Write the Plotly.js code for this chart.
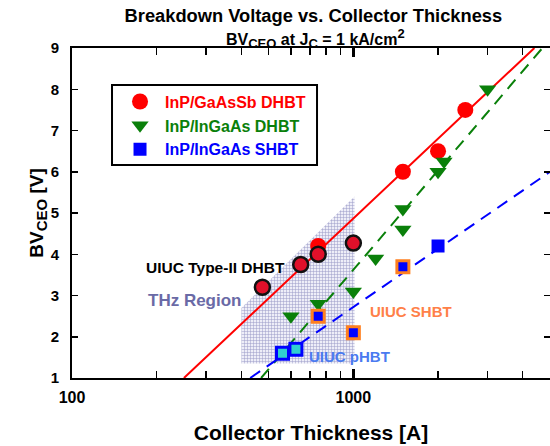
<!DOCTYPE html>
<html>
<head>
<meta charset="utf-8">
<script src="https://cdn.plot.ly/plotly-3.0.1.min.js"></script>
<style>html,body{margin:0;padding:0;background:#fff}#chart{width:550px;height:446px}</style>
</head>
<body>
<div id="chart"></div>
<script>
// ---- data ----
const gasbX = [750, 1500, 2000, 2500];
const gasbY = [4.2, 6.0, 6.5, 7.5];
const uiucDhbtX = [475, 650, 750, 1000];
const uiucDhbtY = [3.2, 3.75, 4.0, 4.27];
const ingaasDhbtX = [600, 750, 1000, 1200, 1500, 1500, 2000, 2100, 3000];
const ingaasDhbtY = [2.5, 2.8, 3.1, 3.9, 4.6, 5.1, 6.0, 6.25, 8.0];
const shbtX = [2000];
const shbtY = [4.2];
const uiucShbtX = [750, 1000, 1500];
const uiucShbtY = [2.5, 2.1, 3.7];
const uiucPhbtX = [560, 625];
const uiucPhbtY = [1.6, 1.7];
const fitRedX = [250, 4400];
const fitRedY = [1, 9];
const fitGreenX = [470, 4700];
const fitGreenY = [1, 9];
const fitBlueX = [430, 5000];
const fitBlueY = [1, 6];
const thzX = [400, 400, 1010, 1010, 400];
const thzY = [1.35, 2.7, 5.4, 1.35, 1.35];
const seriesNames = ['InP/GaAsSb DHBT', 'InP/InGaAs DHBT', 'InP/InGaAs SHBT'];
const xTickVals = [100, 1000];
const xMinorVals = [200, 300, 400, 500, 600, 700, 800, 900, 2000, 3000, 4000, 5000];

const RED = '#ff0000', GREEN = '#0a800a', BLUE = '#0000ff';
const FONT = 'Liberation Sans, Arial, sans-serif';

const traces = [
  {x: thzX, y: thzY, mode: 'lines', fill: 'toself', line: {width: 0},
   fillcolor: '#e0e0f0',
   fillpattern: {shape: '+', size: 3, solidity: 0.3, fgcolor: '#9a9ac8', bgcolor: '#eeeef8', fillmode: 'replace'},
   showlegend: false, hoverinfo: 'skip'},
  {x: fitRedX, y: fitRedY, mode: 'lines', line: {color: RED, width: 2}, showlegend: false},
  {x: fitGreenX, y: fitGreenY, mode: 'lines', line: {color: GREEN, width: 2, dash: '12px,8px'}, showlegend: false},
  {x: fitBlueX, y: fitBlueY, mode: 'lines', line: {color: BLUE, width: 2, dash: '12px,8px'}, showlegend: false},
  {x: gasbX, y: gasbY, mode: 'markers', name: '<span style="color:' + RED + '">' + seriesNames[0] + '</span>',
   marker: {symbol: 'circle', size: 16, color: RED}},
  {x: ingaasDhbtX, y: ingaasDhbtY, mode: 'markers', name: '<span style="color:' + GREEN + '">' + seriesNames[1] + '</span>',
   marker: {symbol: 'triangle-down', size: 15, color: GREEN}},
  {x: shbtX, y: shbtY, mode: 'markers', name: '<span style="color:' + BLUE + '">' + seriesNames[2] + '</span>',
   marker: {symbol: 'square', size: 13, color: BLUE}},
  {x: uiucDhbtX, y: uiucDhbtY, mode: 'markers', showlegend: false,
   marker: {symbol: 'circle', size: 15, color: '#e0102a', line: {color: '#111', width: 2.5}}},
  {x: uiucShbtX, y: uiucShbtY, mode: 'markers', showlegend: false,
   marker: {symbol: 'square', size: 12, color: BLUE, line: {color: '#ff8020', width: 3}}},
  {x: uiucPhbtX, y: uiucPhbtY, mode: 'markers', showlegend: false,
   marker: {symbol: 'square', size: 12, color: '#30d0d0', line: {color: BLUE, width: 3}}}
];

const layout = {
  width: 550, height: 446,
  margin: {l: 72, r: 0, t: 48, b: 68},
  paper_bgcolor: '#fff', plot_bgcolor: 'rgba(0,0,0,0)',
  font: {family: FONT, color: '#000', weight: 'bold'},
  title: {text: 'Breakdown Voltage vs. Collector Thickness', x: 0.505, xref: 'paper',
          y: 0.965, yref: 'container', yanchor: 'middle',
          font: {size: 18.3, family: FONT, weight: 'bold', color: '#000'}},
  xaxis: {type: 'log', range: [2, Math.log10(5000)],
          tickmode: 'array', tickvals: xTickVals, ticktext: xTickVals.map(String),
          ticks: 'inside', ticklen: 9, tickwidth: 3, tickcolor: '#000',
          minor: {tickmode: 'array', tickvals: xMinorVals, ticks: 'inside', ticklen: 7, tickwidth: 1.5, tickcolor: '#000'},
          showline: true, linecolor: '#000', linewidth: 2, mirror: 'ticks',
          showgrid: false, zeroline: false, ticklabelstandoff: 4,
          tickfont: {size: 16, family: FONT, weight: 'bold'},
          title: {text: 'Collector Thickness [A]', standoff: 20, font: {size: 21, family: FONT, weight: 'bold'}}},
  yaxis: {range: [1, 9], tickmode: 'linear', tick0: 1, dtick: 1,
          ticks: 'inside', ticklen: 6, tickwidth: 1.5, tickcolor: '#000',
          showline: true, linecolor: '#000', linewidth: 2, mirror: 'ticks',
          showgrid: false, zeroline: false, ticklabelstandoff: 8,
          tickfont: {size: 15, family: FONT, weight: 'bold'},
          title: {text: 'BV<sub><span style="font-size:15px">CEO</span></sub> [V]', standoff: 2,
                  font: {size: 19, family: FONT, weight: 'bold'}}},
  showlegend: true,
  legend: {x: 0.09, y: 0.889, xanchor: 'left', yanchor: 'top', bgcolor: 'rgba(0,0,0,0)', borderwidth: 0,
           itemwidth: 40, tracegroupgap: 0, font: {size: 16, family: FONT, weight: 'bold'}},
  shapes: [
    {type: 'rect', xref: 'paper', yref: 'paper', x0: 0.0837, x1: 0.5126, y0: 0.6455, y1: 0.8879,
     line: {color: '#000', width: 2}, fillcolor: 'rgba(0,0,0,0)'}
  ],
  annotations: [
    {text: 'BV<sub><span style="font-size:13px">CEO</span></sub> at J<sub><span style="font-size:13px">C</span></sub> = 1 kA/cm<sup><span style="font-size:13px">2</span></sup>',
     xref: 'paper', yref: 'paper',
     x: 0.51, y: 1.03, xanchor: 'center', yanchor: 'middle', showarrow: false,
     font: {size: 16, family: FONT, weight: 'bold', color: '#000'}},
    {text: 'UIUC Type-II DHBT', xref: 'x', yref: 'y', x: Math.log10(583), y: 3.69, xanchor: 'right', showarrow: false,
     font: {size: 15.5, family: FONT, weight: 'bold', color: '#000'}},
    {text: 'THz Region', xref: 'x', yref: 'y', x: Math.log10(410), y: 2.87, xanchor: 'right', showarrow: false,
     font: {size: 17, family: FONT, weight: 'bold', color: '#6a6aa6'}},
    {text: 'UIUC SHBT', xref: 'x', yref: 'y', x: Math.log10(1130), y: 2.62, xanchor: 'left', showarrow: false,
     font: {size: 15, family: FONT, weight: 'bold', color: '#ff8048'}},
    {text: 'UIUC pHBT', xref: 'x', yref: 'y', x: Math.log10(687), y: 1.53, xanchor: 'left', showarrow: false,
     font: {size: 15, family: FONT, weight: 'bold', color: '#4a7af0'}}
  ]
};

Plotly.newPlot('chart', traces, layout, {displayModeBar: false, staticPlot: true});
</script>
</body>
</html>
